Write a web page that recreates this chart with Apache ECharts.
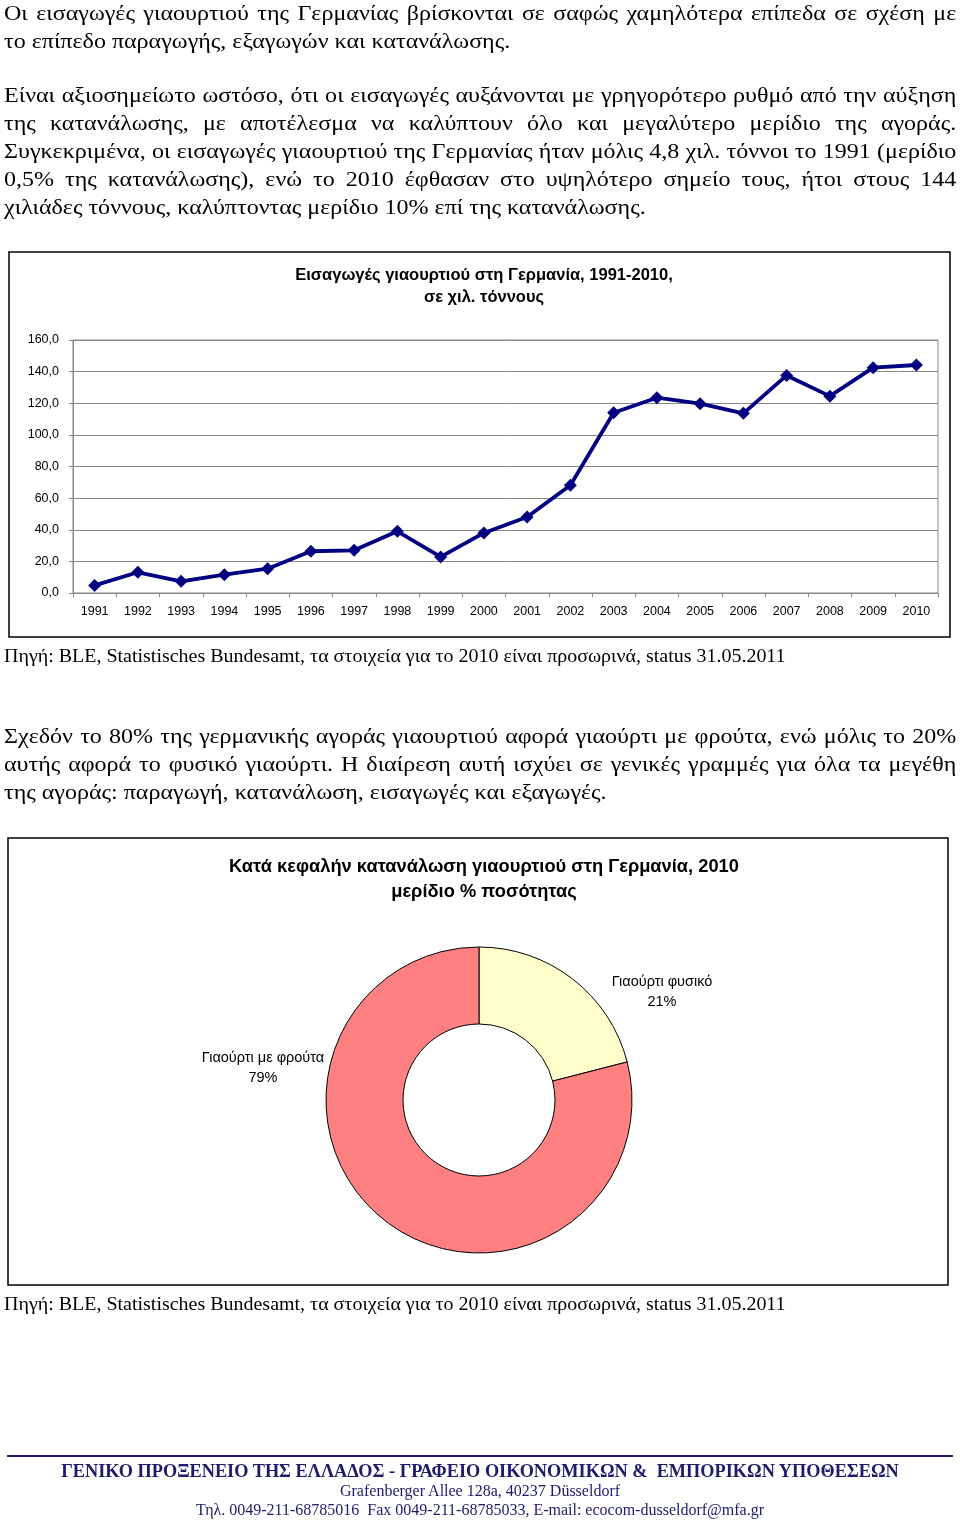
<!DOCTYPE html>
<html><head><meta charset="utf-8">
<script src="https://cdn.jsdelivr.net/npm/echarts@6/dist/echarts.min.js"></script>
<style>
html,body{margin:0;padding:0;background:#fff;}
#page{position:relative;width:960px;height:1526px;overflow:hidden;}
#chart{position:absolute;left:0;top:0;width:960px;height:1526px;}
.t{position:absolute;left:4px;width:872px;font-family:'Liberation Serif','Times New Roman',serif;font-size:22px;line-height:28px;color:#000;white-space:nowrap;z-index:2;transform:scaleX(1.092);transform-origin:0 0;}
.j{text-align:justify;text-align-last:justify;white-space:normal;}
.src{font-size:18.5px;transform:scaleX(1.08);width:880px;}
.f{position:absolute;left:0;width:960px;text-align:center;font-family:'Liberation Serif','Times New Roman',serif;color:#1c1c6c;white-space:nowrap;z-index:2;}
</style></head>
<body><div id="page">
<div id="chart"></div>
<div class="t j" style="top:-1px">Οι εισαγωγές γιαουρτιού της Γερμανίας βρίσκονται σε σαφώς χαμηλότερα επίπεδα σε σχέση με</div>
<div class="t" style="top:27px">το επίπεδο παραγωγής, εξαγωγών και κατανάλωσης.</div>
<div class="t j" style="top:81px">Είναι αξιοσημείωτο ωστόσο, ότι οι εισαγωγές αυξάνονται με γρηγορότερο ρυθμό από την αύξηση</div>
<div class="t j" style="top:109px">της κατανάλωσης, με αποτέλεσμα να καλύπτουν όλο και μεγαλύτερο μερίδιο της αγοράς.</div>
<div class="t j" style="top:137px">Συγκεκριμένα, οι εισαγωγές γιαουρτιού της Γερμανίας ήταν μόλις 4,8 χιλ. τόννοι το 1991 (μερίδιο</div>
<div class="t j" style="top:165px">0,5% της κατανάλωσης), ενώ το 2010 έφθασαν στο υψηλότερο σημείο τους, ήτοι στους 144</div>
<div class="t" style="top:193px">χιλιάδες τόννους, καλύπτοντας μερίδιο 10% επί της κατανάλωσης.</div>
<div class="t src" style="top:642px">Πηγή: BLE, Statistisches Bundesamt, τα στοιχεία για το 2010 είναι προσωρινά, status 31.05.2011</div>
<div class="t j" style="top:722px">Σχεδόν το 80% της γερμανικής αγοράς γιαουρτιού αφορά γιαούρτι με φρούτα, ενώ μόλις το 20%</div>
<div class="t j" style="top:750px">αυτής αφορά το φυσικό γιαούρτι. Η διαίρεση αυτή ισχύει σε γενικές γραμμές για όλα τα μεγέθη</div>
<div class="t" style="top:778px">της αγοράς: παραγωγή, κατανάλωση, εισαγωγές και εξαγωγές.</div>
<div class="t src" style="top:1290px">Πηγή: BLE, Statistisches Bundesamt, τα στοιχεία για το 2010 είναι προσωρινά, status 31.05.2011</div>
<div style="position:absolute;left:7px;top:1455px;width:946px;height:2px;background:#1c1c6c;"></div>
<div class="f" style="top:1460px;font-size:18.3px;font-weight:bold;line-height:22px;">ΓΕΝΙΚΟ ΠΡΟΞΕΝΕΙΟ ΤΗΣ ΕΛΛΑΔΟΣ - ΓΡΑΦΕΙΟ ΟΙΚΟΝΟΜΙΚΩΝ &amp;&nbsp; ΕΜΠΟΡΙΚΩΝ ΥΠΟΘΕΣΕΩΝ</div>
<div class="f" style="top:1481px;font-size:16px;line-height:19px;">Grafenberger Allee 128a, 40237 Düsseldorf</div>
<div class="f" style="top:1500px;font-size:16px;line-height:19px;">Τηλ. 0049-211-68785016&nbsp; Fax 0049-211-68785033, E-mail: ecocom-dusseldorf@mfa.gr</div>
</div>
<script>
const years = ['1991','1992','1993','1994','1995','1996','1997','1998','1999','2000','2001','2002','2003','2004','2005','2006','2007','2008','2009','2010'];
const imports = [4.8,13.1,7.4,11.6,15.4,26.4,27.0,39.0,22.8,38.0,48.1,68.2,114.0,123.5,119.7,113.6,137.6,124.5,142.5,144.2];
const pieNames = ['Γιαούρτι φυσικό','Γιαούρτι με φρούτα'];
const pieValues = [21,79];
const lineTitle = 'Εισαγωγές γιαουρτιού στη Γερμανία, 1991-2010,\nσε χιλ. τόννους';
const pieTitle = 'Κατά κεφαλήν κατανάλωση γιαουρτιού στη Γερμανία, 2010\nμερίδιο % ποσότητας';

const chart = echarts.init(document.getElementById('chart'), null, {renderer:'canvas'});
const sans = "'Liberation Sans', Arial, sans-serif";
const labelPos = [[662, 992], [263, 1068]];
chart.setOption({
  animation:false,
  title:[
    {text:lineTitle, left:479, top:259, textAlign:'center', padding:5,
     textStyle:{fontFamily:sans, fontSize:16.5, fontWeight:'bold', color:'#000', lineHeight:22}},
    {text:pieTitle, left:479, top:849, textAlign:'center', padding:5,
     textStyle:{fontFamily:sans, fontSize:18.3, fontWeight:'bold', color:'#000', lineHeight:25}}
  ],
  graphic:[
    {type:'rect', shape:{x:9, y:252, width:941, height:385}, style:{fill:'none', stroke:'#000', lineWidth:1.5}},
    {type:'rect', shape:{x:8, y:838, width:940, height:447}, style:{fill:'none', stroke:'#000', lineWidth:1.5}}
  ],
  grid:{left:73, top:340, width:865, height:253, show:true, borderColor:'#888', borderWidth:1, containLabel:false},
  xAxis:{type:'category', data:years, boundaryGap:true,
    axisLine:{lineStyle:{color:'#888', width:1}},
    axisTick:{show:true, length:4, lineStyle:{color:'#888'}},
    axisLabel:{fontFamily:sans, fontSize:12.5, color:'#000', margin:12, interval:0}},
  yAxis:{type:'value', min:0, max:160, interval:20,
    axisLine:{show:true, lineStyle:{color:'#888'}},
    axisTick:{show:true, length:4, lineStyle:{color:'#888'}},
    splitLine:{lineStyle:{color:'#888', width:1}},
    axisLabel:{fontFamily:sans, fontSize:12.5, color:'#000', margin:14,
      formatter:v=>v.toFixed(1).replace('.',',')}},
  series:[
    {type:'line', data:imports, symbol:'diamond', symbolSize:13,
     lineStyle:{color:'#000080', width:3.8}, itemStyle:{color:'#000080'}, z:5},
    {type:'pie', center:[479,1100], radius:[76,153], startAngle:90, clockwise:true,
     data:pieNames.map((n,i)=>({name:n, value:pieValues[i]})),
     color:['#FFFFCC','#FF8080'],
     itemStyle:{borderColor:'#000', borderWidth:1},
     label:{show:true, position:'outside', formatter:'{b}\n{d}%', fontFamily:sans, fontSize:14.5, color:'#000', lineHeight:20, align:'center'},
     labelLine:{show:false},
     labelLayout:function(p){ const q=labelPos[p.dataIndex]; return {x:q[0], y:q[1], align:'center', verticalAlign:'middle'}; }
    }
  ]
});
</script>
</body></html>
